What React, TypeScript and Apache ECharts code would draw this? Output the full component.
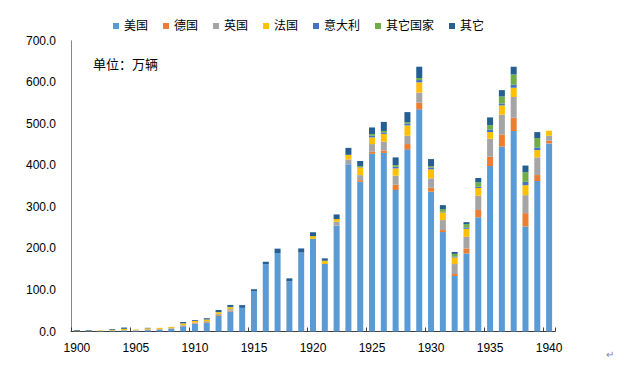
import React, { useEffect, useRef } from "react";
import * as echarts from "echarts";

const years = [
  "1900","1901","1902","1903","1904","1905","1906","1907","1908","1909",
  "1910","1911","1912","1913","1914","1915","1916","1917","1918","1919",
  "1920","1921","1922","1923","1924","1925","1926","1927","1928","1929",
  "1930","1931","1932","1933","1934","1935","1936","1937","1938","1939",
  "1940",
];

const usa = [
  0.4,0.7,0.9,1.1,2.2,2.4,3.3,4.3,6.4,12.7,
  18.7,21.5,37.8,48.5,57,97,162,189,121,190,
  223,162.5,254.7,403,360.6,428,430,340.6,438.6,535,
  336.6,239.5,133.6,188,275,398.4,445,482.7,253,362.3,
  453,
];
const germany = [
  0.1,0,0,0,0.3,0.3,1.0,0.8,0.8,1.2,
  1.3,1.5,2.2,2.0,0,0,0,0,0,0,
  0,0,0,0,4,4.8,5.6,12.8,12.8,16,
  9.6,4.8,4.8,12,17.6,22.5,28.9,32,32,14.4,
  6.4,
];
const uk = [
  0.1,0,0,0.3,1.0,0.5,1.0,1.2,1.0,1.5,
  1.5,2.0,2.5,3.4,0,0,0,0,0,0,
  0,0,9.6,11.2,12,18.5,21.7,21.7,20,24,
  22.5,24,24,28,34.5,43.3,48,49.7,43.3,42.5,
  12,
];
const france = [
  0.5,0.4,1.4,2.0,3.0,1.5,2.5,2.5,2.5,4.0,
  3.8,4.0,4.0,4.5,0,0,0,0,0,0,
  6.5,8,6.4,11.2,18.5,16,18.5,17.6,24.9,24.9,
  21.7,18.5,16,19.3,18.5,16,22.5,22.5,24,17.6,
  12,
];
const italy = [
  0,0,0,0,0,0,0,0,0.3,0.5,
  0,0,0.4,0.8,0,0,0,0,0,0,
  0,0,0,0,1,4,3.6,4,4.8,5.6,
  4.8,1.5,2,3.2,3.2,6.4,4.8,7.2,8,6.4,
  0,
];
const otherCountries = [
  0,0,0,0,0,0,0,0,0,0,
  0,0,0,0,0,0,0,0,0,0,
  0,0,0,0,2.5,4,3.6,4,3.2,4.8,
  3.2,6.4,6.4,8,10.4,10.4,16.8,24.9,23.3,22.5,
  0,
];
const others = [
  2.0,1.8,0.2,2.0,3.0,0,1.0,0,0,3.0,
  2.0,3.0,4.8,4.8,6.5,4.5,6,10.5,7,10,
  9.5,5.6,11.2,16.8,12,16,21.7,18.5,24,27.3,
  16.8,9.6,4.8,4.8,10.4,18.5,15.2,18.5,16,14.4,
  0,
];

const seriesNames = ["美国", "德国", "英国", "法国", "意大利", "其它国家", "其它"];
const seriesData = [usa, germany, uk, france, italy, otherCountries, others];
const colors = ["#5B9BD5", "#ED7D31", "#A5A5A5", "#FFC000", "#4472C4", "#70AD47", "#255E91"];

const FONT = "'Liberation Sans', Arial, 'Noto Sans CJK SC', sans-serif";

export default function App() {
  const ref = useRef<HTMLDivElement>(null);
  useEffect(() => {
    if (!ref.current) return;
    const chart = echarts.init(ref.current, null, { renderer: "svg" });
    chart.setOption({
      animation: false,
      color: colors,
      textStyle: { fontFamily: FONT },
      legend: {
        left: 113,
        top: 20,
        padding: 0,
        icon: "rect",
        itemWidth: 6,
        itemHeight: 6,
        itemGap: 15,
        textStyle: { fontSize: 12, color: "#000", fontFamily: FONT },
        data: seriesNames,
      },
      grid: { left: 71, right: 78, top: 40.8, bottom: 46.5, containLabel: false },
      xAxis: {
        type: "category",
        data: years,
        boundaryGap: true,
        axisLine: { lineStyle: { color: "#404040", width: 1 } },
        axisTick: { show: true, inside: true, length: 4, interval: 4, lineStyle: { color: "#404040" } },
        axisLabel: { interval: 4, fontSize: 12, color: "#000", margin: 10, fontFamily: FONT },
      },
      yAxis: {
        type: "value",
        min: 0,
        max: 700,
        interval: 100,
        axisLine: { show: true, lineStyle: { color: "#868686" } },
        axisTick: { show: false },
        splitLine: { show: false },
        axisLabel: {
          fontSize: 12,
          color: "#000",
          margin: 15,
          fontFamily: FONT,
          formatter: (v: number) => v.toFixed(1),
        },
      },
      graphic: [
        {
          type: "text",
          left: 93,
          top: 58,
          style: { text: "单位：万辆", fontSize: 13, fill: "#000", fontFamily: FONT },
        },
        {
          type: "text",
          left: 606,
          top: 349,
          style: { text: "↵", fontSize: 10, fill: "#888", fontFamily: FONT },
        },
      ],
      series: seriesNames.map((name, i) => ({
        name,
        type: "bar",
        stack: "total",
        barWidth: 6,
        data: seriesData[i],
        itemStyle: { color: colors[i] },
      })),
    });
    return () => chart.dispose();
  }, []);
  return (
    <div
      ref={ref}
      style={{ position: "fixed", left: 0, top: 0, width: 633, height: 378, background: "#fff" }}
    />
  );
}
